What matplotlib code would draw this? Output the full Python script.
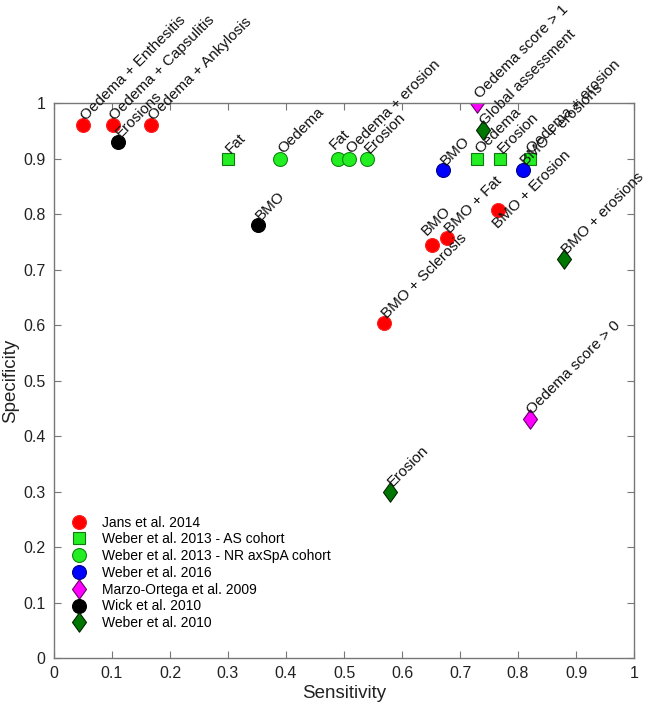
"""
Sensitivity vs specificity of MRI lesions in studies
"""

import matplotlib
matplotlib.use('Agg')
import matplotlib.pyplot as plt

plt.rcParams['font.family'] = ['Liberation Sans', 'DejaVu Sans']

# Jans et al. 2014
jans_sens = [0.050, 0.101, 0.168, 0.652, 0.678, 0.765, 0.569]
jans_spec = [0.960, 0.960, 0.960, 0.745, 0.756, 0.808, 0.603]
jans_lbl = ['Oedema + Enthesitis', 'Oedema + Capsulitis', 'Oedema + Ankylosis',
            'BMO', 'BMO + Fat', 'BMO + Erosion', 'BMO + Sclerosis']

# Weber et al. 2013 - AS cohort
as_sens = [0.300, 0.730, 0.769, 0.820]
as_spec = [0.900, 0.900, 0.900, 0.900]
as_lbl = ['Fat', 'Oedema', 'Erosion', 'Oedema + erosion']

# Weber et al. 2013 - NR axSpA cohort
nr_sens = [0.390, 0.489, 0.509, 0.539]
nr_spec = [0.900, 0.900, 0.900, 0.900]
nr_lbl = ['Oedema', 'Fat', 'Oedema + erosion', 'Erosion']

# Weber et al. 2016
w16_sens = [0.670, 0.809]
w16_spec = [0.879, 0.879]
w16_lbl = ['BMO', 'BMO + erosions']

# Marzo-Ortega et al. 2009
mo_sens = [0.730, 0.820]
mo_spec = [1.000, 0.431]
mo_lbl = ['Oedema score > 1', 'Oedema score > 0']

# Wick et al. 2010
wick_sens = [0.111, 0.351]
wick_spec = [0.930, 0.780]
wick_lbl = ['Erosions', 'BMO']

# Weber et al. 2010
w10_sens = [0.739, 0.879, 0.579]
w10_spec = [0.951, 0.719, 0.300]
w10_lbl = ['Global assessment', 'BMO + erosions', 'Erosion']

# особые смещения подписей (в points)
custom_off = {
    ('Jans', 'BMO'): (-4, 6),
    ('Jans', 'BMO + Erosion'): (0, -14),
    ('NR', 'Fat'): (-2, 6),
}

# ромб как в MATLAB (чуть вытянутый)
diamond = [(0, 1), (0.72, 0), (0, -1), (-0.72, 0), (0, 1)]

series = [
    ('Jans', 'Jans et al. 2014', jans_sens, jans_spec, jans_lbl,
     dict(marker='o', ms=10, mfc='#ff0000', mec='#ff2020')),
    ('AS', 'Weber et al. 2013 - AS cohort', as_sens, as_spec, as_lbl,
     dict(marker='s', ms=8, mfc='#22ee22', mec='#117711')),
    ('NR', 'Weber et al. 2013 - NR axSpA cohort', nr_sens, nr_spec, nr_lbl,
     dict(marker='o', ms=10, mfc='#22ee22', mec='#118811')),
    ('W16', 'Weber et al. 2016', w16_sens, w16_spec, w16_lbl,
     dict(marker='o', ms=10, mfc='#0000ff', mec='#000088')),
    ('MO', 'Marzo-Ortega et al. 2009', mo_sens, mo_spec, mo_lbl,
     dict(marker=diamond, ms=14, mfc='#ff00ff', mec='#660066')),
    ('Wick', 'Wick et al. 2010', wick_sens, wick_spec, wick_lbl,
     dict(marker='o', ms=10, mfc='#000000', mec='#000000')),
    ('W10', 'Weber et al. 2010', w10_sens, w10_spec, w10_lbl,
     dict(marker=diamond, ms=14, mfc='#007700', mec='#002200')),
]

fig = plt.figure(figsize=(6.55, 7.06), dpi=100)
ax = fig.add_axes([0.0824, 0.068, 0.8856, 0.786])

for key, name, xs, ys, lbls, st in series:
    ax.plot(xs, ys, linestyle='none', label=name, mew=0.8, **st)
    for x, y, t in zip(xs, ys, lbls):
        off = custom_off.get((key, t), (2, 3))
        ax.annotate(t, (x, y), xytext=off, textcoords='offset points',
                    rotation=45, rotation_mode='anchor', ha='left', va='baseline',
                    fontsize=11, color='#111111')

ax.set_xlim(0, 1)
ax.set_ylim(0, 1)
ax.set_xticks([i / 10 for i in range(11)])
ax.set_yticks([i / 10 for i in range(11)])
ax.set_xticklabels(['0'] + ['%.1f' % (i / 10) for i in range(1, 10)] + ['1'])
ax.set_yticklabels(['0'] + ['%.1f' % (i / 10) for i in range(1, 10)] + ['1'])
ax.tick_params(direction='in', top=True, right=True, length=5, width=0.8,
               colors='#777777', labelcolor='#222222', labelsize=11.5, pad=6)
for s in ax.spines.values():
    s.set_color('#777777')
    s.set_linewidth(1.0)

ax.set_xlabel('Sensitivity', fontsize=13.5, color='#222222', labelpad=3)
ax.set_ylabel('Specificity', fontsize=13.5, color='#222222', labelpad=3)

ax.legend(loc='lower left', frameon=False, fontsize=10, handletextpad=0.65,
          labelspacing=0.2, borderaxespad=0, numpoints=1,
          bbox_to_anchor=(0.01, 0.04))

fig.savefig('out.png', dpi=100)
